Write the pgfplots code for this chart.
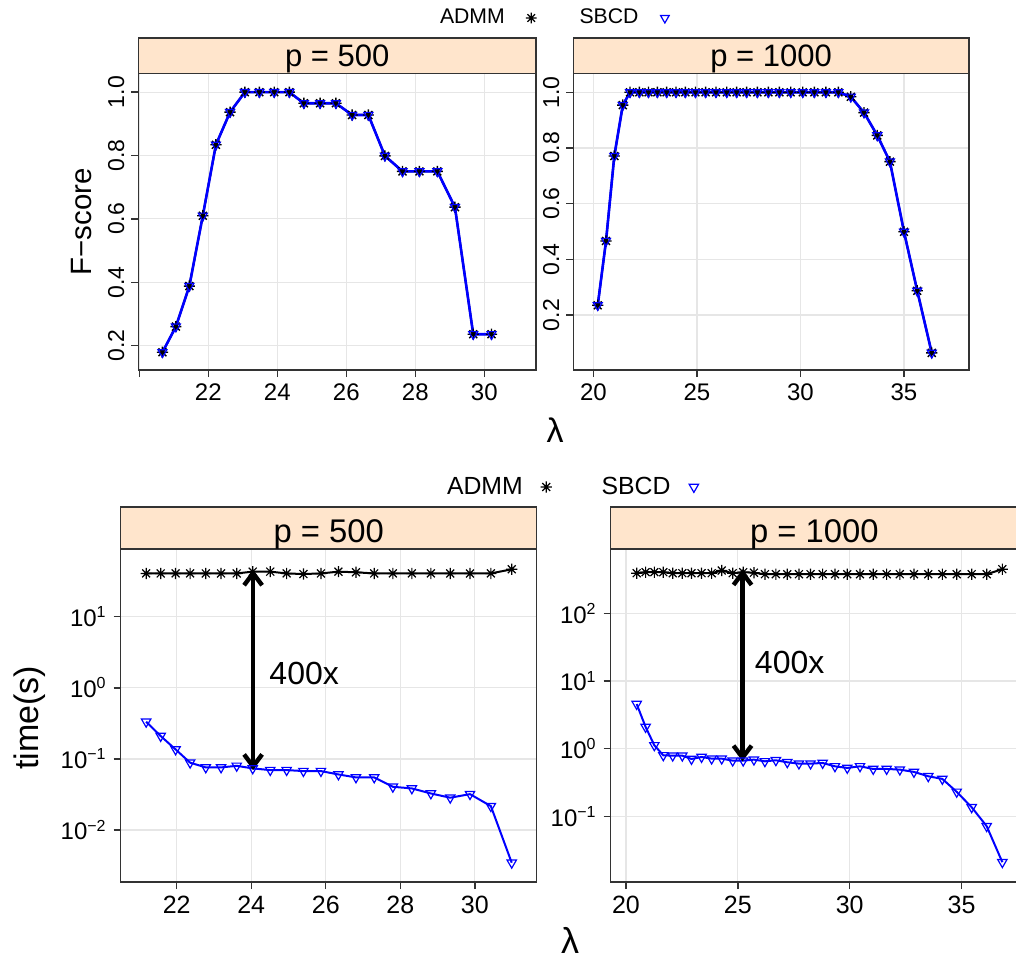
\documentclass[border=0pt]{standalone}
\usepackage{fontspec}
\setmainfont{Liberation Sans}
\usepackage{pgfplots}
\pgfplotsset{compat=1.18}
\usetikzlibrary{arrows.meta}
\definecolor{stripc}{HTML}{FFE5CC}
\definecolor{gridc}{HTML}{E6E6E6}
\pgfdeclareplotmark{rstar}{%
 \pgfpathmoveto{\pgfqpoint{-\pgfplotmarksize}{0pt}}\pgfpathlineto{\pgfqpoint{\pgfplotmarksize}{0pt}}%
 \pgfpathmoveto{\pgfqpoint{0pt}{-\pgfplotmarksize}}\pgfpathlineto{\pgfqpoint{0pt}{\pgfplotmarksize}}%
 \pgfpathmoveto{\pgfqpoint{-.7071\pgfplotmarksize}{-.7071\pgfplotmarksize}}\pgfpathlineto{\pgfqpoint{.7071\pgfplotmarksize}{.7071\pgfplotmarksize}}%
 \pgfpathmoveto{\pgfqpoint{-.7071\pgfplotmarksize}{.7071\pgfplotmarksize}}\pgfpathlineto{\pgfqpoint{.7071\pgfplotmarksize}{-.7071\pgfplotmarksize}}%
 \pgfusepathqstroke}

\pgfplotstableread{
x y
20.67 0.179
21.06 0.260
21.45 0.388
21.84 0.610
22.22 0.834
22.63 0.937
23.06 1.0
23.48 1.0
23.91 1.0
24.35 1.0
24.77 0.965
25.24 0.965
25.70 0.965
26.17 0.928
26.64 0.928
27.12 0.799
27.63 0.750
28.12 0.750
28.64 0.750
29.15 0.637
29.68 0.236
30.21 0.236
}\fTL

\pgfplotstableread{
x y
20.21 0.235
20.61 0.466
21.01 0.771
21.42 0.954
21.77 1
22.22 1
22.66 1
23.09 1
23.54 1
23.99 1
24.44 1
24.93 1
25.42 1
25.92 1
26.44 1
26.92 1
27.40 1
27.92 1
28.45 1
28.98 1
29.53 1
30.11 1
30.67 1
31.23 1
31.83 1
32.43 0.984
33.07 0.927
33.71 0.845
34.32 0.751
35.00 0.499
35.64 0.287
36.34 0.064
}\fTR

\pgfplotstableread{
x admm sbcd
21.18 40.6 0.333
21.57 40.6 0.210
21.97 40.6 0.136
22.36 40.6 0.0886
22.78 40.6 0.076
23.19 40.6 0.076
23.61 40.6 0.080
24.04 43.0 0.0736
24.51 43.0 0.0697
24.95 40.6 0.0697
25.40 39.8 0.0675
25.87 40.6 0.0675
26.34 43.0 0.0605
26.81 42.1 0.055
27.30 40.6 0.055
27.80 40.6 0.0406
28.31 40.6 0.0385
28.82 40.6 0.0327
29.34 40.6 0.0285
29.87 40.6 0.032
30.43 40.6 0.0217
30.99 46.4 0.00347
}\tBL

\pgfplotstableread{
x admm sbcd
20.48 391 4.56
20.88 405 2.09
21.27 405 1.12
21.67 405 0.797
22.09 391 0.788
22.52 391 0.788
22.93 391 0.704
23.38 391 0.753
23.83 391 0.712
24.28 428 0.712
24.77 391 0.665
25.24 405 0.665
25.72 398 0.688
26.21 378 0.650
26.70 378 0.673
27.21 378 0.629
27.73 378 0.601
28.25 378 0.601
28.79 378 0.614
29.34 378 0.548
29.89 378 0.519
30.46 378 0.548
31.05 378 0.501
31.65 378 0.501
32.24 378 0.490
32.87 378 0.453
33.51 378 0.391
34.14 378 0.357
34.78 378 0.230
35.45 378 0.136
36.12 378 0.0715
36.82 448 0.021
}\tBR

\pgfplotsset{
 latt/.style={scale only axis, anchor=south west, clip=false,
  axis line style={black!80, line width=0.7pt},
  tick style={black!80, line width=0.7pt},
  tick align=outside, major tick length=3.5pt,
  xtick pos=left, ytick pos=left,
  grid=major, major grid style={gridc, line width=0.6pt},
 },
 admmT/.style={black, line width=1pt, mark=rstar, mark size=2.8pt, mark options={line width=0.7pt}},
 sbcdT/.style={blue, line width=1.3pt, mark=triangle, mark size=2.6pt, mark options={rotate=180, line width=0.6pt}},
 admmB/.style={black, line width=1pt, mark=rstar, mark size=2.8pt, mark options={line width=0.6pt}},
 sbcdB/.style={blue, line width=1pt, mark=triangle, mark size=2.7pt, mark options={rotate=180, line width=0.6pt}},
 legend image code/.code={\path (0pt,0pt) (6pt,0pt); \draw[#1] plot coordinates {(3pt,0pt)};},
}

\begin{document}
\begin{tikzpicture}
\useasboundingbox (0,0) rectangle (508pt,-481pt);

% ---------------- top left
\begin{axis}[latt, at={(69.15pt,-185pt)}, width=198.85pt, height=148.25pt,
  xmin=19.97, xmax=31.5, ymin=0.123, ymax=1.059,
  xtick={20,22,24,26,28,30}, xticklabels={,22,24,26,28,30},
  ytick={0.2,0.4,0.6,0.8,1.0}, yticklabels={0.2,0.4,0.6,0.8,1.0},
  xticklabel style={font=\fontsize{12}{14}\selectfont},
  yticklabel style={font=\fontsize{11.5}{14}\selectfont, rotate=90, anchor=south},
  legend plot pos=right,
  legend style={at={(0.7586,1.1872)}, anchor=west, draw=none, fill=none, inner sep=0pt, outer sep=0pt,
    legend columns=2, font=\fontsize{10.6}{12}\selectfont, nodes={inner sep=0pt},
    /tikz/every odd column/.append style={column sep=10pt},
    /tikz/every even column/.append style={column sep=21pt}},
]
\addlegendimage{only marks, mark=rstar, black, mark size=2.7pt, mark options={line width=0.6pt}}
\addlegendentry{ADMM}
\addlegendimage{only marks, mark=triangle, blue, mark size=2.5pt, mark options={rotate=180, line width=0.6pt}}
\addlegendentry{SBCD}
\addplot[admmT, forget plot] table[x=x, y=y] {\fTL};
\addplot[sbcdT, forget plot] table[x=x, y=y] {\fTL};
\draw[fill=stripc, draw=black!80, line width=0.7pt] (rel axis cs:0,1) rectangle ([yshift=17.75pt]rel axis cs:1,1);
\node[anchor=base, font=\fontsize{15.5}{18}\selectfont] at ([yshift=3.3pt]rel axis cs:0.5,1) {p = 500};
\end{axis}

% ---------------- top right
\begin{axis}[latt, at={(286.65pt,-185pt)}, width=197.85pt, height=148.25pt,
  xmin=19.03, xmax=38.14, ymin=0.0025, ymax=1.0675,
  xtick={20,25,30,35}, xticklabels={20,25,30,35},
  ytick={0.2,0.4,0.6,0.8,1.0}, yticklabels={0.2,0.4,0.6,0.8,1.0},
  xticklabel style={font=\fontsize{12}{14}\selectfont},
  yticklabel style={font=\fontsize{11.5}{14}\selectfont, rotate=90, anchor=south},
]
\addplot[admmT] table[x=x, y=y] {\fTR};
\addplot[sbcdT] table[x=x, y=y] {\fTR};
\draw[fill=stripc, draw=black!80, line width=0.7pt] (rel axis cs:0,1) rectangle ([yshift=17.75pt]rel axis cs:1,1);
\node[anchor=base, font=\fontsize{15.5}{18}\selectfont] at ([yshift=3.3pt]rel axis cs:0.5,1) {p = 1000};
\end{axis}

% ---------------- bottom left
\begin{axis}[latt, at={(60.35pt,-441pt)}, width=208pt, height=166.5pt,
  xmin=20.497, xmax=31.66, ymode=log, ymin=0.00186, ymax=89.5, yminorticks=false,
  xtick={22,24,26,28,30}, xticklabels={22,24,26,28,30},
  ytick={0.01,0.1,1,10}, yticklabels={10\textsuperscript{−2},10\textsuperscript{−1},10\textsuperscript{0},10\textsuperscript{1}},
  xticklabel style={font=\fontsize{12.5}{14}\selectfont},
  yticklabel style={font=\fontsize{12}{14}\selectfont},
  legend plot pos=right,
  legend style={at={(0.7844,1.1862)}, anchor=west, draw=none, fill=none, inner sep=0pt, outer sep=0pt,
    legend columns=2, font=\fontsize{12.4}{14}\selectfont, nodes={inner sep=0pt},
    /tikz/every odd column/.append style={column sep=8.5pt},
    /tikz/every even column/.append style={column sep=24.5pt}},
]
\addlegendimage{only marks, mark=rstar, black, mark size=2.8pt, mark options={line width=0.6pt}}
\addlegendentry{ADMM}
\addlegendimage{only marks, mark=triangle, blue, mark size=2.7pt, mark options={rotate=180, line width=0.6pt}}
\addlegendentry{SBCD}
\addplot[admmB, forget plot] table[x=x, y=admm] {\tBL};
\addplot[sbcdB, forget plot] table[x=x, y=sbcd] {\tBL};
\draw[line width=2.2pt, {Straight Barb[length=6pt,width=9pt]}-{Straight Barb[length=6pt,width=9pt]}] (axis cs:24.05,46) -- (axis cs:24.05,0.0697);
\node[anchor=west, font=\fontsize{16}{18}\selectfont] at (axis cs:24.3,1.61) {400x};
\draw[fill=stripc, draw=black!80, line width=0.7pt] (rel axis cs:0,1) rectangle ([yshift=21pt]rel axis cs:1,1);
\node[anchor=base, font=\fontsize{16.4}{19}\selectfont] at ([yshift=3.5pt]rel axis cs:0.5,1) {p = 500};
\end{axis}

% ---------------- bottom right
\begin{axis}[latt, at={(305.35pt,-441pt)}, width=203.65pt, height=166.5pt,
  xmin=19.32, xmax=37.52, ymode=log, ymin=0.0107, ymax=891, yminorticks=false,
  xtick={20,25,30,35}, xticklabels={20,25,30,35},
  ytick={0.1,1,10,100}, yticklabels={10\textsuperscript{−1},10\textsuperscript{0},10\textsuperscript{1},10\textsuperscript{2}},
  xticklabel style={font=\fontsize{12.5}{14}\selectfont},
  yticklabel style={font=\fontsize{12}{14}\selectfont},
]
\addplot[admmB] table[x=x, y=admm] {\tBR};
\addplot[sbcdB] table[x=x, y=sbcd] {\tBR};
\draw[line width=2.2pt, {Straight Barb[length=6pt,width=9pt]}-{Straight Barb[length=6pt,width=9pt]}] (axis cs:25.21,447) -- (axis cs:25.21,0.65);
\node[anchor=west, font=\fontsize{16}{18}\selectfont] at (axis cs:25.45,18.6) {400x};
\draw[fill=stripc, draw=black!80, line width=0.7pt] (rel axis cs:0,1) rectangle ([yshift=21pt]rel axis cs:1,1);
\node[anchor=base, font=\fontsize{16.4}{19}\selectfont] at ([yshift=3.5pt]rel axis cs:0.5,1) {p = 1000};
\end{axis}

% ---------------- labels
\node[font=\fontsize{17}{20}\selectfont] at (277.5pt,-215pt) {λ};
\node[font=\fontsize{18}{20}\selectfont, anchor=base] at (285pt,-476.5pt) {λ};
\node[rotate=90, font=\fontsize{14.7}{17}\selectfont] at (41pt,-111pt) {F−score};
\node[rotate=90, font=\fontsize{17}{20}\selectfont] at (15pt,-359pt) {time(s)};
\end{tikzpicture}
\end{document}
